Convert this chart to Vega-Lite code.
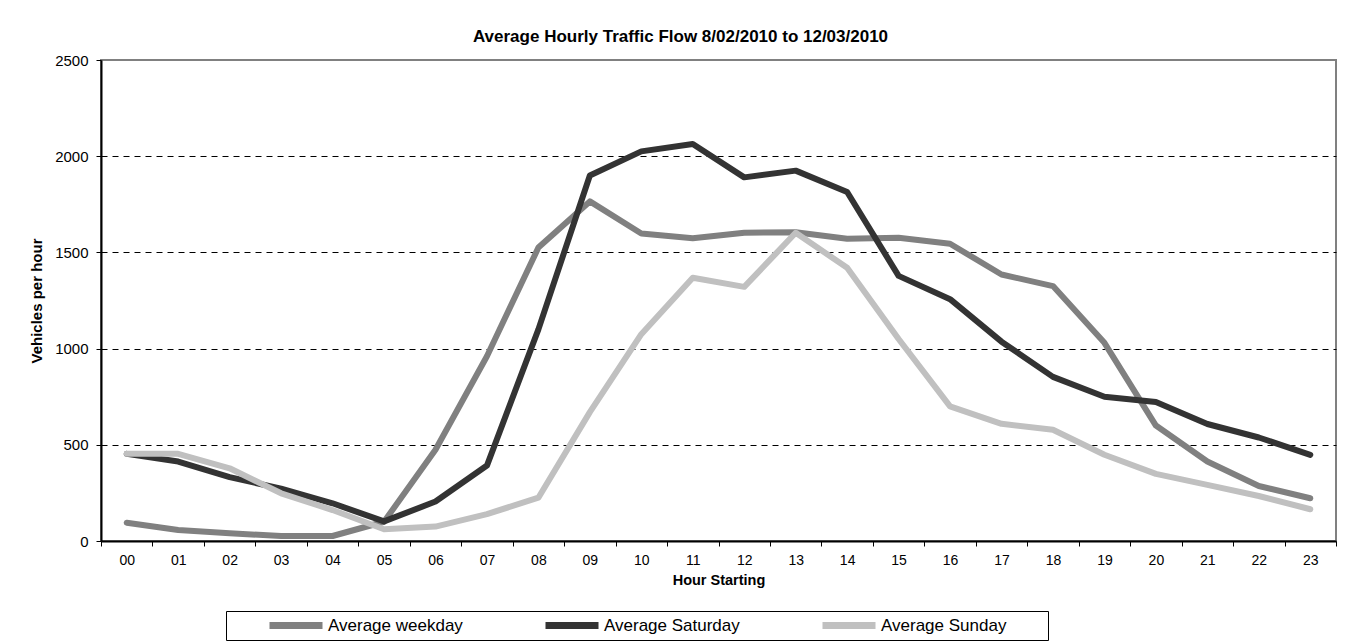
{
  "$schema": "https://vega.github.io/schema/vega-lite/v6.json",
  "width": 1235,
  "height": 481,
  "autosize": {"type": "none"},
  "padding": {"left": 101, "top": 60, "right": 29, "bottom": 103},
  "background": "white",
  "title": {
    "text": "Average Hourly Traffic Flow 8/02/2010 to 12/03/2010",
    "font": "Liberation Sans",
    "fontSize": 17,
    "fontWeight": "bold",
    "color": "black",
    "anchor": "middle",
    "dx": -38,
    "offset": 7
  },
  "config": {
    "view": {"stroke": "#808080", "strokeWidth": 2},
    "font": "Liberation Sans"
  },
  "data": {
    "values": [
      {"hour": "00", "series": "Average weekday", "v": 95},
      {"hour": "01", "series": "Average weekday", "v": 57},
      {"hour": "02", "series": "Average weekday", "v": 40},
      {"hour": "03", "series": "Average weekday", "v": 26},
      {"hour": "04", "series": "Average weekday", "v": 26},
      {"hour": "05", "series": "Average weekday", "v": 100},
      {"hour": "06", "series": "Average weekday", "v": 474},
      {"hour": "07", "series": "Average weekday", "v": 960},
      {"hour": "08", "series": "Average weekday", "v": 1525},
      {"hour": "09", "series": "Average weekday", "v": 1765},
      {"hour": "10", "series": "Average weekday", "v": 1598},
      {"hour": "11", "series": "Average weekday", "v": 1573},
      {"hour": "12", "series": "Average weekday", "v": 1602},
      {"hour": "13", "series": "Average weekday", "v": 1605},
      {"hour": "14", "series": "Average weekday", "v": 1571},
      {"hour": "15", "series": "Average weekday", "v": 1576},
      {"hour": "16", "series": "Average weekday", "v": 1545},
      {"hour": "17", "series": "Average weekday", "v": 1385},
      {"hour": "18", "series": "Average weekday", "v": 1325},
      {"hour": "19", "series": "Average weekday", "v": 1030},
      {"hour": "20", "series": "Average weekday", "v": 600},
      {"hour": "21", "series": "Average weekday", "v": 413},
      {"hour": "22", "series": "Average weekday", "v": 286},
      {"hour": "23", "series": "Average weekday", "v": 222},
      {"hour": "00", "series": "Average Saturday", "v": 453},
      {"hour": "01", "series": "Average Saturday", "v": 413},
      {"hour": "02", "series": "Average Saturday", "v": 332},
      {"hour": "03", "series": "Average Saturday", "v": 272},
      {"hour": "04", "series": "Average Saturday", "v": 196},
      {"hour": "05", "series": "Average Saturday", "v": 102},
      {"hour": "06", "series": "Average Saturday", "v": 205},
      {"hour": "07", "series": "Average Saturday", "v": 392},
      {"hour": "08", "series": "Average Saturday", "v": 1100},
      {"hour": "09", "series": "Average Saturday", "v": 1900},
      {"hour": "10", "series": "Average Saturday", "v": 2025},
      {"hour": "11", "series": "Average Saturday", "v": 2063},
      {"hour": "12", "series": "Average Saturday", "v": 1890},
      {"hour": "13", "series": "Average Saturday", "v": 1925},
      {"hour": "14", "series": "Average Saturday", "v": 1814},
      {"hour": "15", "series": "Average Saturday", "v": 1378},
      {"hour": "16", "series": "Average Saturday", "v": 1257},
      {"hour": "17", "series": "Average Saturday", "v": 1036},
      {"hour": "18", "series": "Average Saturday", "v": 853},
      {"hour": "19", "series": "Average Saturday", "v": 750},
      {"hour": "20", "series": "Average Saturday", "v": 722},
      {"hour": "21", "series": "Average Saturday", "v": 608},
      {"hour": "22", "series": "Average Saturday", "v": 538},
      {"hour": "23", "series": "Average Saturday", "v": 448},
      {"hour": "00", "series": "Average Sunday", "v": 453},
      {"hour": "01", "series": "Average Sunday", "v": 453},
      {"hour": "02", "series": "Average Sunday", "v": 378},
      {"hour": "03", "series": "Average Sunday", "v": 248},
      {"hour": "04", "series": "Average Sunday", "v": 161},
      {"hour": "05", "series": "Average Sunday", "v": 61},
      {"hour": "06", "series": "Average Sunday", "v": 75},
      {"hour": "07", "series": "Average Sunday", "v": 140},
      {"hour": "08", "series": "Average Sunday", "v": 225},
      {"hour": "09", "series": "Average Sunday", "v": 670},
      {"hour": "10", "series": "Average Sunday", "v": 1075},
      {"hour": "11", "series": "Average Sunday", "v": 1368},
      {"hour": "12", "series": "Average Sunday", "v": 1321},
      {"hour": "13", "series": "Average Sunday", "v": 1602},
      {"hour": "14", "series": "Average Sunday", "v": 1420},
      {"hour": "15", "series": "Average Sunday", "v": 1050},
      {"hour": "16", "series": "Average Sunday", "v": 700},
      {"hour": "17", "series": "Average Sunday", "v": 609},
      {"hour": "18", "series": "Average Sunday", "v": 578},
      {"hour": "19", "series": "Average Sunday", "v": 448},
      {"hour": "20", "series": "Average Sunday", "v": 349},
      {"hour": "21", "series": "Average Sunday", "v": 292},
      {"hour": "22", "series": "Average Sunday", "v": 234},
      {"hour": "23", "series": "Average Sunday", "v": 165}
    ]
  },
  "mark": {"type": "line", "strokeWidth": 6, "strokeCap": "round", "strokeJoin": "round"},
  "encoding": {
    "x": {
      "field": "hour",
      "type": "ordinal",
      "scale": {"type": "band", "paddingInner": 0, "paddingOuter": 0},
      "axis": {
        "title": "Hour Starting",
        "titleFontSize": 14.5,
        "titleFontWeight": "bold",
        "titleColor": "black",
        "titlePadding": 6,
        "labelAngle": 0,
        "labelFontSize": 14,
        "labelColor": "black",
        "labelPadding": 7,
        "tickBand": "extent",
        "tickSize": 5,
        "tickColor": "black",
        "domainColor": "black",
        "domainWidth": 2,
        "grid": false
      }
    },
    "y": {
      "field": "v",
      "type": "quantitative",
      "scale": {"domain": [0, 2500], "nice": false},
      "axis": {
        "title": "Vehicles per hour",
        "titleFontSize": 15,
        "titleFontWeight": "bold",
        "titleColor": "black",
        "titlePadding": 10,
        "values": [0, 500, 1000, 1500, 2000, 2500],
        "format": "d",
        "labelFontSize": 15,
        "labelColor": "black",
        "labelPadding": 8,
        "tickSize": 5,
        "tickColor": "black",
        "domainColor": "black",
        "domainWidth": 2,
        "grid": true,
        "gridColor": {"condition": {"test": "datum.value == 0 || datum.value == 2500", "value": "transparent"}, "value": "black"},
        "gridDash": [6, 5],
        "gridWidth": 1
      }
    },
    "color": {
      "field": "series",
      "type": "nominal",
      "scale": {
        "domain": ["Average weekday", "Average Saturday", "Average Sunday"],
        "range": ["#808080", "#333333", "#c0c0c0"]
      },
      "legend": {
        "title": null,
        "orient": "none",
        "legendX": 125,
        "legendY": 551,
        "direction": "horizontal",
        "columns": 3,
        "symbolType": "stroke",
        "symbolStrokeWidth": 7,
        "symbolSize": 2809,
        "clipHeight": 19,
        "labelFontSize": 17,
        "labelColor": "black",
        "labelOffset": 2,
        "labelLimit": 400,
        "labelExpr": "datum.label == 'Average Sunday' ? datum.label + '\u2800\u2800\u2800' : datum.label",
        "columnPadding": 44,
        "padding": 5,
        "symbolOffset": 35,
        "strokeColor": "black",
        "fillColor": "white"
      }
    }
  }
}
